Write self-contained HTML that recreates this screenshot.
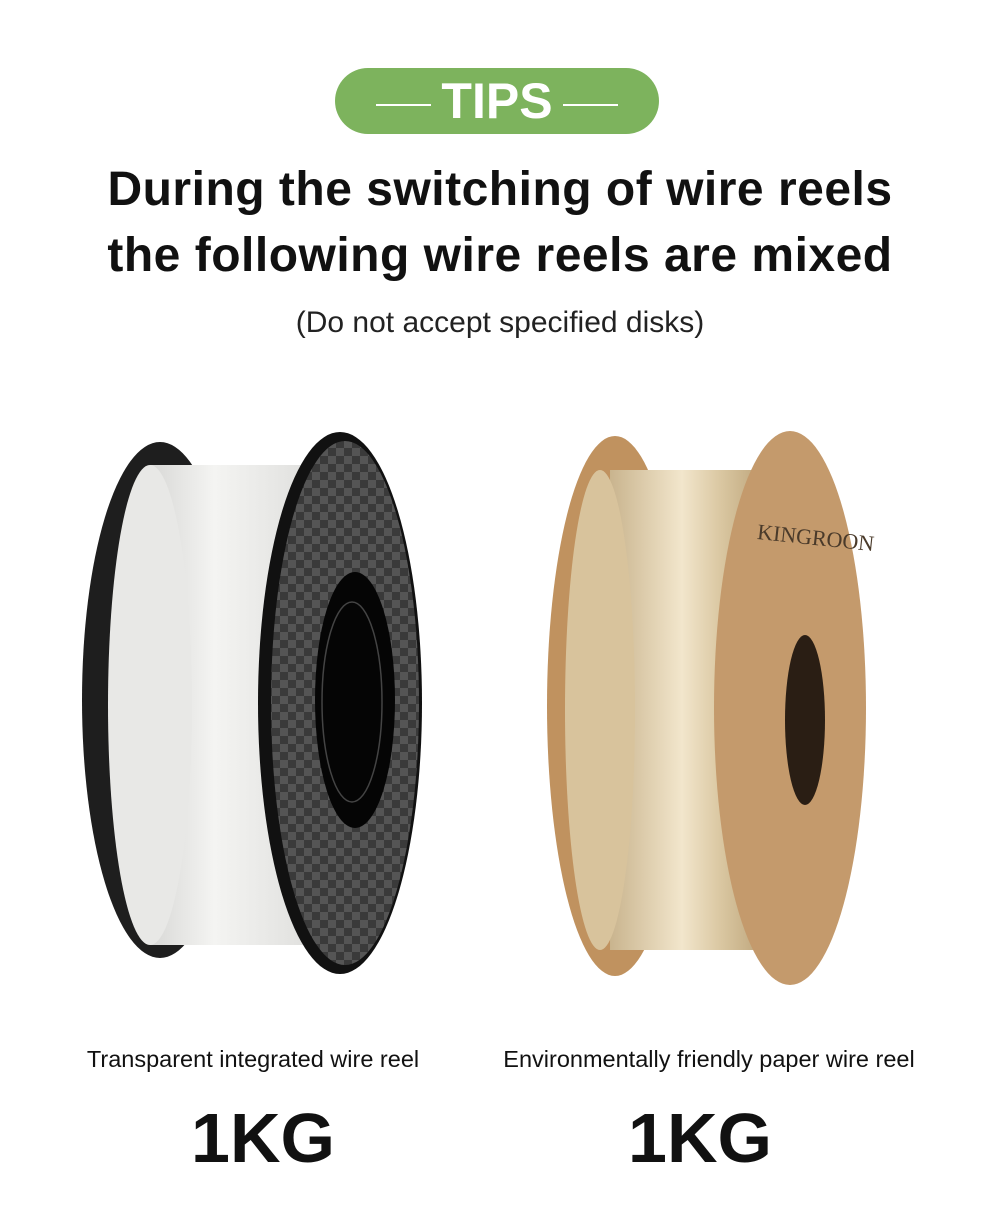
<!DOCTYPE html>
<html><head><meta charset="utf-8"><style>
body{margin:0;width:1000px;height:1207px;background:#fff;position:relative;overflow:hidden;font-family:"Liberation Sans",sans-serif;color:#111}
.pill{position:absolute;left:335px;top:68px;width:324px;height:66px;border-radius:33px;background:#7db35d;color:#fff;text-align:center;font-weight:bold;font-size:50px;line-height:66px}
.pill span.l{display:inline-block;width:55px;height:2px;background:#fff;vertical-align:middle;margin:0 10px}
.t{position:absolute;left:0;width:1000px;text-align:center;white-space:nowrap}
</style></head><body>
<div class="pill"><span class="l"></span>TIPS<span class="l"></span></div>
<div class="t" style="top:162px;font-size:48px;font-weight:bold;line-height:56px;letter-spacing:0.5px">During the switching of wire reels</div>
<div class="t" style="top:228px;font-size:48px;font-weight:bold;line-height:56px;letter-spacing:0.5px">the following wire reels are mixed</div>
<div class="t" style="top:305px;font-size:30px;line-height:36px;color:#222">(Do not accept specified disks)</div>
<svg style="position:absolute;left:0;top:0" width="1000" height="1207">
<defs>
<linearGradient id="w" x1="0" x2="1"><stop offset="0" stop-color="#d8d8d6"/><stop offset=".4" stop-color="#f4f4f2"/><stop offset="1" stop-color="#e0e0de"/></linearGradient>
<linearGradient id="g" x1="0" x2="1"><stop offset="0" stop-color="#c9b48e"/><stop offset=".45" stop-color="#f2e6cc"/><stop offset=".7" stop-color="#d9c6a0"/><stop offset="1" stop-color="#b89f75"/></linearGradient>
<pattern id="cb" width="16" height="16" patternUnits="userSpaceOnUse"><rect width="16" height="16" fill="#3a3a3a"/><rect width="8" height="8" fill="#555"/><rect x="8" y="8" width="8" height="8" fill="#555"/></pattern>
</defs>
<ellipse cx="160" cy="700" rx="78" ry="258" fill="#1e1e1e"/>
<path d="M150 465 L310 465 L310 945 L150 945 Z" fill="url(#w)"/>
<ellipse cx="150" cy="705" rx="42" ry="240" fill="#e8e8e6"/>
<ellipse cx="340" cy="703" rx="82" ry="271" fill="#111"/>
<ellipse cx="345" cy="703" rx="74" ry="262" fill="url(#cb)"/>
<ellipse cx="355" cy="700" rx="40" ry="128" fill="#050505"/>
<ellipse cx="352" cy="702" rx="30" ry="100" fill="none" stroke="#444" stroke-width="1.5"/>
<ellipse cx="615" cy="706" rx="68" ry="270" fill="#c0925f"/>
<path d="M610 470 L770 470 L770 950 L610 950 Z" fill="url(#g)"/>
<ellipse cx="600" cy="710" rx="35" ry="240" fill="#d8c39c"/>
<ellipse cx="790" cy="708" rx="76" ry="277" fill="#c49a6c"/>
<ellipse cx="805" cy="720" rx="20" ry="85" fill="#2a1e14"/>
<text x="815" y="545" font-family="Liberation Serif" font-size="22" fill="#4a3a2a" text-anchor="middle" transform="rotate(6 815 545)">KINGROON</text>
</svg>
<div class="t" style="left:53px;width:400px;top:1044px;font-size:23.5px;line-height:30px">Transparent integrated wire reel</div>
<div class="t" style="left:459px;width:500px;top:1044px;font-size:23.5px;line-height:30px">Environmentally friendly paper wire reel</div>
<div class="t" style="left:63px;width:400px;top:1098px;font-size:70px;font-weight:bold;line-height:80px">1KG</div>
<div class="t" style="left:500px;width:400px;top:1098px;font-size:70px;font-weight:bold;line-height:80px">1KG</div>
</body></html>
